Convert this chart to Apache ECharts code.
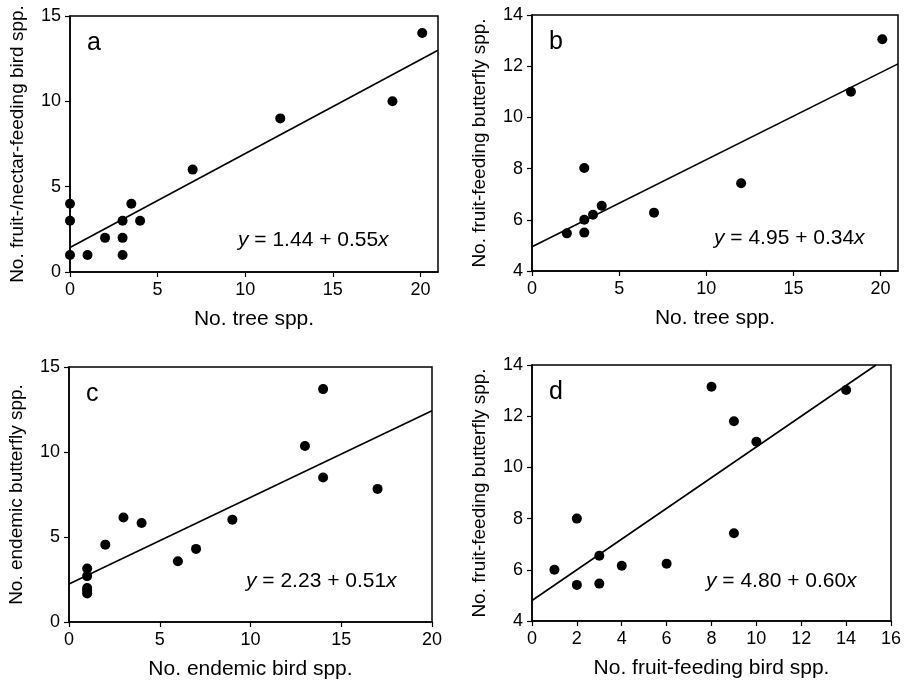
<!DOCTYPE html>
<html>
<head>
<meta charset="utf-8">
<script src="https://cdn.jsdelivr.net/npm/echarts@6/dist/echarts.min.js"></script>
<style>
  html, body { margin: 0; padding: 0; background: #fff; }
  #chart { width: 904px; height: 682px; }
</style>
</head>
<body>
<div id="chart"></div>
<script>
// Panel a: tree spp. vs fruit-/nectar-feeding bird spp.
const aX = [0, 0, 0, 1, 2, 3, 3, 3, 3.5, 4, 7, 12, 18.4, 20.1];
const aY = [4, 3, 1, 1, 2, 3, 2, 1, 4, 3, 6, 9, 10, 14];
// Panel b: tree spp. vs fruit-feeding butterfly spp.
const bX = [2, 3, 3, 3, 3.5, 4, 7, 12, 18.3, 20.1];
const bY = [5.47, 5.5, 6, 8.02, 6.2, 6.55, 6.28, 7.43, 11, 13.05];
// Panel c: endemic bird spp. vs endemic butterfly spp.
const cX = [1, 1, 1, 1, 1, 2, 3, 4, 6, 7, 9, 13, 14, 14, 17];
const cY = [3.15, 2.7, 2.0, 1.85, 1.68, 4.55, 6.15, 5.82, 3.57, 4.3, 6.02, 10.35, 13.7, 8.5, 7.83];
// Panel d: fruit-feeding bird spp. vs fruit-feeding butterfly spp.
const dX = [1, 2, 2, 3, 3, 4, 6, 8, 9, 9, 10, 14];
const dY = [6, 5.41, 8, 6.55, 5.46, 6.16, 6.24, 13.15, 11.8, 7.43, 11, 13.02];

// regression fits
const intercepts = [1.44, 4.95, 2.23, 4.80];
const slopes = [0.55, 0.34, 0.51, 0.60];

// axes
const letters = ['a', 'b', 'c', 'd'];
const xNames = ['No. tree spp.', 'No. tree spp.', 'No. endemic bird spp.', 'No. fruit-feeding bird spp.'];
const yNames = ['No. fruit-/nectar-feeding bird spp.', 'No. fruit-feeding butterfly spp.',
                'No. endemic butterfly spp.', 'No. fruit-feeding butterfly spp.'];
const xMins = [0, 0, 0, 0];
const xMaxs = [21, 21, 20, 16];
const xSteps = [5, 5, 5, 2];
const yMins = [0, 4, 0, 4];
const yMaxs = [15, 14, 15, 14];
const ySteps = [5, 2, 5, 2];

const panelX = [aX, bX, cX, dX];
const panelY = [aY, bY, cY, dY];

const grids = [
    {left: 70, top: 16, width: 368, height: 256},
    {left: 532, top: 15, width: 366, height: 256},
    {left: 69, top: 367, width: 363, height: 255},
    {left: 532, top: 365, width: 362, height: 256}
];
const eqPos = [[233, 225], [709, 223], [241, 566], [701, 566]];

const font = "'Liberation Sans', Arial, Helvetica, sans-serif";

const chart = echarts.init(document.getElementById('chart'));

const series = [];
panelX.forEach((xs, i) => {
    series.push({
        type: 'scatter',
        xAxisIndex: i,
        yAxisIndex: i,
        symbolSize: 10,
        itemStyle: {color: '#000', opacity: 1},
        data: xs.map((x, j) => [x, panelY[i][j]]),
        silent: true,
        z: 3
    });
    const xEnd = Math.min(xMaxs[i], (yMaxs[i] - intercepts[i]) / slopes[i]);
    series.push({
        type: 'line',
        xAxisIndex: i,
        yAxisIndex: i,
        showSymbol: false,
        lineStyle: {color: '#000', width: 1.6},
        data: [[xMins[i], intercepts[i] + slopes[i] * xMins[i]], [xEnd, intercepts[i] + slopes[i] * xEnd]],
        silent: true,
        z: 2
    });
});

const titles = [];
letters.forEach((l, i) => {
    titles.push({
        text: l,
        left: grids[i].left + 12,
        top: grids[i].top + 10,
        textStyle: {fontFamily: font, fontSize: 25, fontWeight: 'normal', color: '#000'}
    });
    titles.push({
        text: '{i|y} = ' + intercepts[i].toFixed(2) + ' + ' + slopes[i].toFixed(2) + '{i|x}',
        left: eqPos[i][0],
        top: eqPos[i][1],
        textStyle: {
            fontFamily: font, fontSize: 21, fontWeight: 'normal', color: '#000',
            rich: {i: {fontFamily: font, fontSize: 21, fontStyle: 'italic', color: '#000'}}
        }
    });
});

chart.setOption({
    animation: false,
    backgroundColor: '#fff',
    title: titles,
    grid: grids.map(g => Object.assign({show: true, borderColor: '#000', borderWidth: 1.5, containLabel: false}, g)),
    xAxis: grids.map((_, i) => ({
        type: 'value',
        gridIndex: i,
        min: xMins[i],
        max: xMaxs[i],
        interval: xSteps[i],
        name: xNames[i],
        nameLocation: 'middle',
        nameGap: 37,
        nameTextStyle: {fontFamily: font, fontSize: 21, color: '#000'},
        axisLine: {show: true, lineStyle: {color: '#000', width: 1.5}},
        axisTick: {show: true, inside: false, length: 5, lineStyle: {color: '#000', width: 1.2}},
        axisLabel: {fontFamily: font, fontSize: 18, color: '#000', margin: 9, showMaxLabel: xMaxs[i] % xSteps[i] === 0},
        splitLine: {show: false}
    })),
    yAxis: grids.map((_, i) => ({
        type: 'value',
        gridIndex: i,
        min: yMins[i],
        max: yMaxs[i],
        interval: ySteps[i],
        name: yNames[i],
        nameLocation: 'middle',
        nameGap: 43,
        nameTextStyle: {fontFamily: font, fontSize: 19, color: '#000'},
        axisLine: {show: true, lineStyle: {color: '#000', width: 1.5}},
        axisTick: {show: true, inside: false, length: 5, lineStyle: {color: '#000', width: 1.2}},
        axisLabel: {fontFamily: font, fontSize: 18, color: '#000', margin: 9},
        splitLine: {show: false}
    })),
    series: series
});
</script>
</body>
</html>
